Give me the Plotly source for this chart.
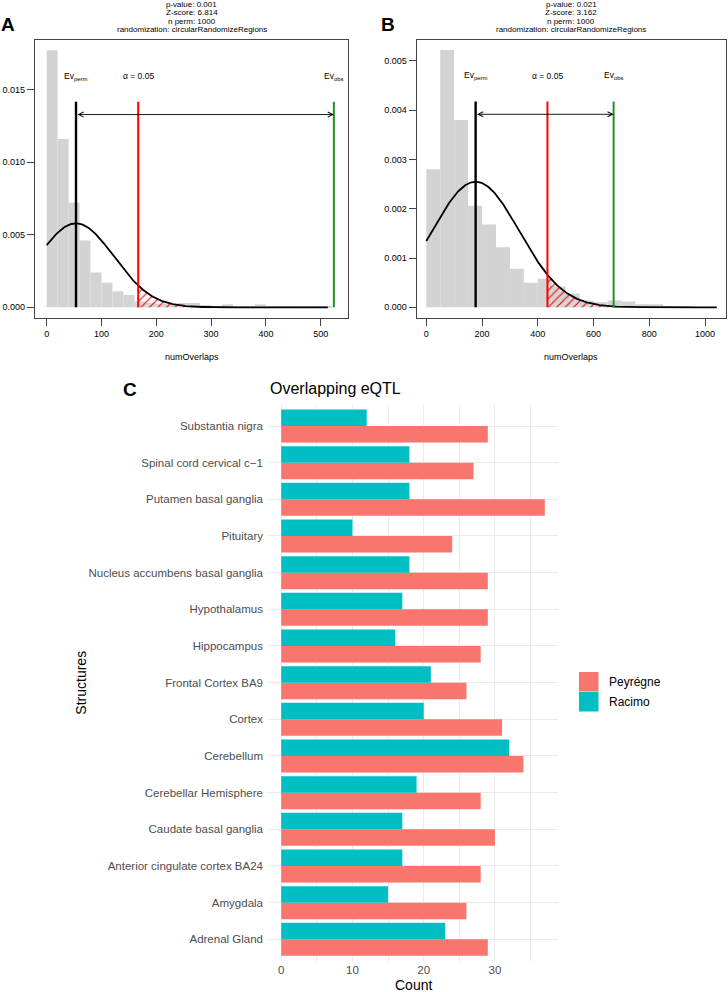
import numpy as np
import plotly.graph_objects as go

W, H = 728, 992

# -----------------------------------------------------------------------------
# DATA
# -----------------------------------------------------------------------------

# A - permutation test (numOverlaps), bins of 20
a_bin_width = 20
a_counts = [354, 232, 144, 92, 48, 34, 22, 17, 8, 6, 5, 4, 6, 6, 3, 1, 4, 1,
            1, 4, 1, 1, 1, 2, 1, 2]
a_n_perm = 1000
a_ev_perm = 53.5
a_sd = 69.0
a_alpha = 167
a_ev_obs = 524
a_perm_max = 513
a_title = ["p-value: 0.001", "Z-score: 6.814", "n perm: 1000",
           "randomization: circularRandomizeRegions"]
a_xticks = [0, 100, 200, 300, 400, 500]
a_yticks = [0.0, 0.005, 0.010, 0.015]

# B - permutation test (numOverlaps), bins of 50
b_bin_width = 50
b_counts = [140, 261, 190, 103, 84, 61, 39, 25, 29, 21, 14, 7, 5, 7, 6, 3, 3,
            1, 1, 0, 0]
b_n_perm = 1000
b_ev_perm = 177
b_sd = 156.6
b_alpha = 434.6
b_ev_obs = 672
b_perm_max = 1042
b_title = ["p-value: 0.021", "Z-score: 3.162", "n perm: 1000",
           "randomization: circularRandomizeRegions"]
b_xticks = [0, 200, 400, 600, 800, 1000]
b_yticks = [0.0, 0.001, 0.002, 0.003, 0.004, 0.005]

# C - overlapping eQTL per structure (top to bottom as drawn)
structures = ["Substantia nigra", "Spinal cord cervical c\u22121",
              "Putamen basal ganglia", "Pituitary",
              "Nucleus accumbens basal ganglia", "Hypothalamus", "Hippocampus",
              "Frontal Cortex BA9", "Cortex", "Cerebellum",
              "Cerebellar Hemisphere", "Caudate basal ganglia",
              "Anterior cingulate cortex BA24", "Amygdala", "Adrenal Gland"]
peyregne = [29, 27, 37, 24, 29, 29, 28, 26, 31, 34, 28, 30, 28, 26, 29]
racimo = [12, 18, 18, 10, 18, 17, 16, 21, 20, 32, 19, 17, 17, 15, 23]
count_ticks = [0, 10, 20, 30]

# -----------------------------------------------------------------------------
# HELPERS
# -----------------------------------------------------------------------------
FONT = "Liberation Sans, Arial, sans-serif"


def px(x):
    return x / W


def py(y):
    return 1 - y / H


def dnorm(x, m, s):
    return np.exp(-0.5 * ((x - m) / s) ** 2) / (s * np.sqrt(2 * np.pi))


annotations = []


def note(x, y, text, size, **kw):
    # text placed in pixel coords of the page
    d = dict(x=px(x), y=py(y), xref="paper", yref="paper", text=text,
             showarrow=False, xanchor="center", yanchor="middle",
             font=dict(size=size, color="black", family=FONT))
    d.update(kw)
    annotations.append(d)


def perm_panel(fig, counts, bw, n_perm, ev_perm, sd, alpha, ev_obs, pmax, xa, ya):
    dens = np.array(counts) / (n_perm * bw)
    centers = bw * (np.arange(len(counts)) + 0.5)
    ymax = dens.max()
    fig.add_trace(go.Bar(x=centers, y=dens, width=bw, marker_color="#D3D3D3",
                         marker_line_width=0, xaxis=xa, yaxis=ya))
    # hatched tail beyond alpha
    xh = np.linspace(alpha, pmax, 200)
    fig.add_trace(go.Scatter(x=xh, y=dnorm(xh, ev_perm, sd), mode="lines",
                             line=dict(width=0, color="red"), fill="tozeroy",
                             fillcolor="rgba(0,0,0,0)",
                             fillpattern=dict(shape="/", fgcolor="red",
                                              bgcolor="rgba(0,0,0,0)",
                                              fillmode="replace",
                                              size=6, solidity=0.18),
                             xaxis=xa, yaxis=ya))
    # normal curve
    xc = np.linspace(0, pmax, 400)
    fig.add_trace(go.Scatter(x=xc, y=dnorm(xc, ev_perm, sd), mode="lines",
                             line=dict(color="black", width=1.8),
                             xaxis=xa, yaxis=ya))
    for xv, col, lw in [(ev_perm, "black", 2.4), (alpha, "red", 2.0),
                        (ev_obs, "#229022", 2.0)]:
        fig.add_trace(go.Scatter(x=[xv, xv], y=[0, 0.8 * ymax], mode="lines",
                                 line=dict(color=col, width=lw),
                                 xaxis=xa, yaxis=ya))
    for xv, txt in [(ev_perm, "Ev<sub>perm</sub>"), (alpha, "\u03b1 = 0.05"),
                    (ev_obs, "Ev<sub>obs</sub>")]:
        annotations.append(dict(x=xv, y=0.9 * ymax, xref=xa, yref=ya,
                                text=txt, showarrow=False, xanchor="center",
                                font=dict(size=8.5, color="black", family=FONT)))
    annotations.append(dict(x=ev_obs, y=0.75 * ymax, ax=ev_perm, ay=0.75 * ymax,
                            xref=xa, yref=ya, axref=xa, ayref=ya, text="",
                            showarrow=True, arrowside="end+start",
                            arrowhead=5, startarrowhead=5, arrowsize=1.1,
                            startarrowsize=1.1, arrowwidth=0.9,
                            arrowcolor="black", standoff=0, startstandoff=0))


def box_axis(rng, ticks, dom, anchor, fmt=None):
    d = dict(range=rng, domain=dom, anchor=anchor, tickmode="array",
             tickvals=ticks, showline=True, mirror=True, linecolor="#444",
             linewidth=1.3, ticks="outside", ticklen=7, tickcolor="#444",
             tickwidth=1.1, showgrid=False, zeroline=False,
             tickfont=dict(size=9, color="black", family=FONT))
    if fmt:
        d["tickformat"] = fmt
    return d


# -----------------------------------------------------------------------------
# PLOT
# -----------------------------------------------------------------------------
fig = go.Figure()

perm_panel(fig, a_counts, a_bin_width, a_n_perm, a_ev_perm, a_sd, a_alpha,
           a_ev_obs, a_perm_max, "x", "y")
perm_panel(fig, b_counts, b_bin_width, b_n_perm, b_ev_perm, b_sd, b_alpha,
           b_ev_obs, b_perm_max, "x2", "y2")

# C - grouped horizontal bars
fig.add_trace(go.Bar(y=structures, x=peyregne, orientation="h",
                     marker_color="#F8766D", marker_line_width=0,
                     name="Peyr\u00e9gne", xaxis="x3", yaxis="y3"))
fig.add_trace(go.Bar(y=structures, x=racimo, orientation="h",
                     marker_color="#00BFC4", marker_line_width=0,
                     name="Racimo", xaxis="x3", yaxis="y3"))

# panel frames (pixel positions)
a_left, a_right, ab_top, ab_bot = 35, 348, 40, 318
b_left, b_right = 416.7, 725.7
c_left, c_right, c_top, c_bot = 268, 558, 404, 961.3

# titles above A and B
for lines, cx in [(a_title, (a_left + a_right) / 2), (b_title, (b_left + b_right) / 2)]:
    for i, t in enumerate(lines):
        note(cx, 4.5 + 8.3 * i, t, 8)
    note(cx, 357, "numOverlaps", 9)

# panel letters
for letter, x0, y0 in [("A", 8, 25), ("B", 387.5, 25), ("C", 130, 390)]:
    note(x0, y0, "<b>" + letter + "</b>", 19)

# C titles
note(c_left, 388, "Overlapping eQTL", 16, xanchor="left")
note((c_left + c_right) / 2, 985, "Count", 14)
note(81, (c_top + c_bot) / 2, "Structures", 14, textangle=-90)

# manual legend for C
shapes = []
for i, (name, col) in enumerate([("Peyr\u00e9gne", "#F8766D"), ("Racimo", "#00BFC4")]):
    y0 = 672 + 20 * i
    shapes.append(dict(type="rect", xref="paper", yref="paper",
                       x0=px(579), x1=px(598.5), y0=py(y0), y1=py(y0 + 19.5),
                       fillcolor=col, line_width=0))
    note(607, y0 + 10, name, 12, xanchor="left")

fig.update_layout(
    width=W, height=H, autosize=False,
    margin=dict(l=0, r=0, t=0, b=0),
    paper_bgcolor="white", plot_bgcolor="white",
    showlegend=False, barmode="group", bargap=0.1, bargroupgap=0,
    xaxis=box_axis([-21.3, 549.8], a_xticks, [px(a_left), px(a_right)], "y"),
    yaxis=box_axis([-0.000737, 0.01841], a_yticks, [py(ab_bot), py(ab_top)], "x", ".3f"),
    xaxis2=box_axis([-34.4, 1074], b_xticks, [px(b_left), px(b_right)], "y2"),
    yaxis2=box_axis([-0.000217, 0.005422], b_yticks, [py(ab_bot), py(ab_top)], "x2", ".3f"),
    xaxis3=dict(domain=[px(c_left), px(c_right)], anchor="y3",
                range=[-1.85, 38.85], tickmode="array", tickvals=count_ticks,
                showgrid=True, gridcolor="#EBEBEB", gridwidth=1.1,
                minor=dict(tick0=0, dtick=5, showgrid=True, gridcolor="#EBEBEB",
                           gridwidth=0.55),
                zeroline=False, showline=False, ticks="",
                tickfont=dict(size=11.5, color="#4D4D4D", family=FONT)),
    yaxis3=dict(domain=[py(c_bot), py(c_top)], anchor="x3", type="category",
                categoryorder="array", categoryarray=structures[::-1],
                range=[-0.6, 14.6], showgrid=True, gridcolor="#EBEBEB",
                gridwidth=1.1, zeroline=False, showline=False, ticks="",
                ticklabelstandoff=4,
                tickfont=dict(size=11.5, color="#4D4D4D", family=FONT)),
    annotations=annotations,
    shapes=shapes,
)

# the page's default body margin would shift the figure by 8px
fig.write_html("out.html", config={"displayModeBar": False},
               post_script="document.body.style.margin='0';")
